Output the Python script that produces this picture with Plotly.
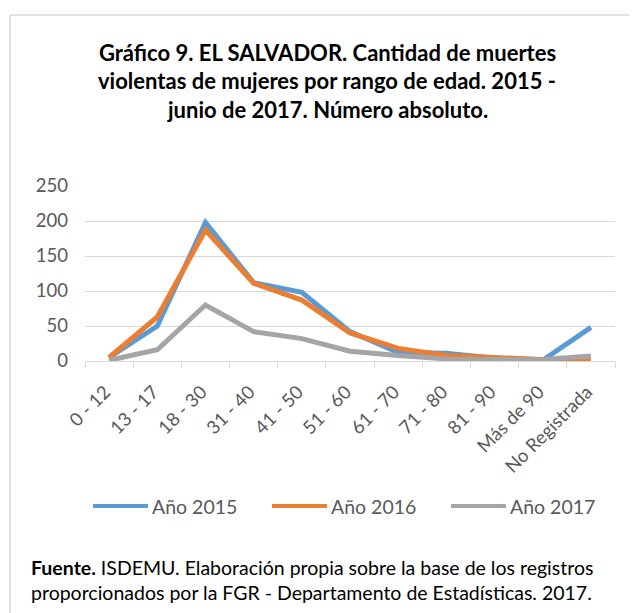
import plotly.graph_objects as go

# age ranges (x categories)
rangos = ['0 - 12', '13 - 17', '18 - 30', '31 - 40', '41 - 50', '51 - 60',
          '61 - 70', '71 - 80', '81 - 90', 'Más de 90', 'No Registrada']

anio_2015 = [5, 50, 198, 112, 98, 42, 12, 11, 4, 1, 48]
anio_2016 = [5, 63, 187, 111, 87, 40, 18, 8, 5, 2, 2]
anio_2017 = [1, 16, 80, 42, 32, 14, 8, 3, 2, 2, 7]

series = [('Año 2015', anio_2015, '#5B9BD5'),
          ('Año 2016', anio_2016, '#ED7D31'),
          ('Año 2017', anio_2017, '#A5A5A5')]

# the page body adds an 8px margin, so the figure is drawn 8px smaller
W, H = 629, 605
L, R, T, B = 77, 22, 178, 252
pw, ph = W - L - R, H - T - B


# helpers: page pixel position -> paper coords (plot area sits at 85..615 x 186..361 on the page)
def px(x):
    return (x - 85) / pw


def py(y):
    return (361 - y) / ph


fig = go.Figure()
for name, vals, color in series:
    fig.add_trace(go.Scatter(x=rangos, y=vals, mode='lines', name=name,
                             line=dict(color=color, width=5)))

font = 'Lato, Carlito, sans-serif'
title_lines = ['Gráfico 9. EL SALVADOR. Cantidad de muertes',
               'violentas de mujeres por rango de edad. 2015 -',
               'junio de 2017. Número absoluto.']
annotations = []
for i, t in enumerate(title_lines):
    annotations.append(dict(text='<b>' + t + '</b>', xref='paper', yref='paper',
                            x=px(327), y=py(52 + 29 * i), xanchor='center', yanchor='middle',
                            showarrow=False, font=dict(family=font, size=22, color='#000000')))

annotations.append(dict(text='<b>Fuente.</b> ISDEMU. Elaboración propia sobre la base de los registros',
                        xref='paper', yref='paper', x=px(29), y=py(567), xanchor='left', yanchor='middle',
                        showarrow=False, font=dict(family=font, size=19.5, color='#000000')))
annotations.append(dict(text='proporcionados por la FGR - Departamento de Estadísticas. 2017.',
                        xref='paper', yref='paper', x=px(29), y=py(592), xanchor='left', yanchor='middle',
                        showarrow=False, font=dict(family=font, size=19.5, color='#000000')))

# frame around the chart (left and top edges)
shapes = [
    dict(type='line', xref='paper', yref='paper', x0=px(10), x1=px(640), y0=py(15), y1=py(15),
         line=dict(color='#D9D9D9', width=1.5)),
    dict(type='line', xref='paper', yref='paper', x0=px(10), x1=px(10), y0=py(620), y1=py(15),
         line=dict(color='#D9D9D9', width=1.5)),
]

# legend drawn by hand: long line keys like the original
legend_x = [93, 272, 451]
for (name, vals, color), lx in zip(series, legend_x):
    shapes.append(dict(type='line', xref='paper', yref='paper', x0=px(lx), x1=px(lx + 55),
                       y0=py(506), y1=py(506), line=dict(color=color, width=4)))
    annotations.append(dict(text=name, xref='paper', yref='paper', x=px(lx + 57), y=py(506),
                            xanchor='left', yanchor='middle', showarrow=False,
                            font=dict(family=font, size=19.5, color='#595959')))

fig.update_layout(
    width=W, height=H,
    margin=dict(l=L, r=R, t=T, b=B, autoexpand=False),
    paper_bgcolor='white', plot_bgcolor='white',
    font=dict(family=font, color='#595959'),
    showlegend=False,
    annotations=annotations,
    shapes=shapes,
)
fig.update_xaxes(type='category', showgrid=False, showline=True, linecolor='#D9D9D9', linewidth=1,
                 ticks='outside', tickson='boundaries', ticklen=6, tickcolor='#D9D9D9',
                 tickangle=-45, tickfont=dict(size=18.5, color='#595959'), range=[-0.5, 10.5],
                 ticklabelstandoff=12, ticklabelshift=-4, automargin=False)
fig.update_yaxes(range=[0, 250], dtick=50, showgrid=True, gridcolor='#D9D9D9', gridwidth=1,
                 zeroline=False, showline=False, ticks='', automargin=False, ticklabelstandoff=16,
                 tickfont=dict(size=18.5, color='#595959'))

fig.write_html('out.html')
